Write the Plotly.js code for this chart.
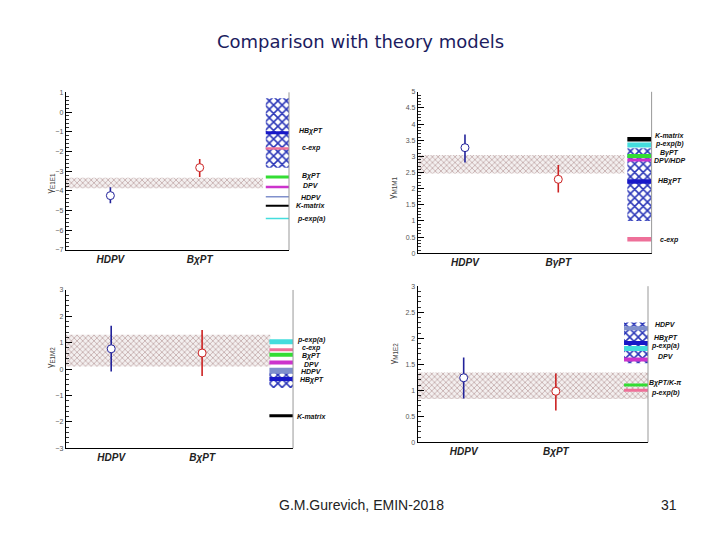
<!DOCTYPE html>
<html><head><meta charset="utf-8">
<script src="https://cdn.plot.ly/plotly-3.0.1.min.js"></script>
<style>html,body{margin:0;padding:0;background:#fff;} #chart{width:720px;height:540px;}</style>
</head><body><div id="chart"></div>
<script>
// ---------- data ----------
const xCategories = ['HDPV', 'BχPT'];
const xCategoriesM1M1 = ['HDPV', 'BγPT'];

// gamma E1E1
const e1e1Values = [-4.24, -2.82];
const e1e1ErrPlus = [0.42, 0.44];
const e1e1ErrMinus = [0.39, 0.48];
const e1e1Band = [-3.87, -3.33];
const e1e1Models = ['HBχPT', 'c-exp', 'BχPT', 'DPV', 'HDPV', 'K-matrix', 'p-exp(a)'];
const e1e1ModelValues = [-1.05, -1.85, -3.29, -3.80, -4.30, -4.76, -5.40];
const e1e1LabelValues = [-0.97, -1.82, -3.22, -3.72, -4.33, -4.76, -5.44];
const e1e1HBRange = [-2.83, 0.70];

// gamma M1M1
const m1m1Values = [3.27, 2.29];
const m1m1ErrPlus = [0.41, 0.44];
const m1m1ErrMinus = [0.46, 0.41];
const m1m1Band = [2.47, 3.04];
const m1m1Models = ['K-matrix', 'p-exp(b)', 'BγPT', 'DPV/HDP', 'HBχPT', 'c-exp'];
const m1m1ModelValues = [3.53, 3.35, 3.01, 2.89, 2.22, 0.43];
const m1m1LabelValues = [3.64, 3.38, 3.12, 2.86, 2.25, 0.41];
const m1m1HBRange = [1.00, 3.25];

// gamma E1M2
const e1m2Values = [0.77, 0.61];
const e1m2ErrPlus = [0.87, 0.87];
const e1m2ErrMinus = [0.86, 0.87];
const e1m2Band = [0.10, 1.30];
const e1m2Models = ['p-exp(a)', 'c-exp', 'BχPT', 'DPV', 'HDPV', 'HBχPT', 'K-matrix'];
const e1m2ModelValues = [1.04, 0.73, 0.54, 0.25, -0.06, -0.38, -1.77];
const e1m2LabelValues = [1.12, 0.81, 0.50, 0.19, -0.10, -0.40, -1.80];
const e1m2HBRange = [-0.72, -0.02];

// gamma M1E2
const m1e2Values = [1.24, 0.98];
const m1e2ErrPlus = [0.39, 0.34];
const m1e2ErrMinus = [0.40, 0.37];
const m1e2Band = [0.83, 1.34];
const m1e2Models = ['HDPV', 'HBχPT', 'p-exp(a)', 'DPV', 'BχPT/K-π', 'p-exp(b)'];
const m1e2ModelValues = [2.19, 1.91, 1.80, 1.59, 1.10, 1.00];
const m1e2LabelValues = [2.26, 2.01, 1.85, 1.64, 1.13, 0.94];
const m1e2HBRange = [1.52, 2.30];

// ---------- styles ----------
const C = {blue:'#1818c8', pink:'#ee7099', green:'#33dd33', mag:'#cc33cc', slate:'#8090cc', black:'#000000', cyan:'#44dddd'};
const panels = [
  {xa:'x', ya:'y', dom:[[0.0913,0.4014],[0.537,0.829]], range:[-7,1], dtick:1, minor:0.2,
   cats:xCategories, vals:e1e1Values, ep:e1e1ErrPlus, em:e1e1ErrMinus, band:e1e1Band, bandX:[0.5,2.71],
   models:e1e1Models, mv:e1e1ModelValues, lv:e1e1LabelValues, hb:e1e1HBRange,
   colors:[C.blue,C.pink,C.green,C.mag,C.slate,C.black,C.cyan], widths:[3,2.5,3,2.5,1.5,2,1.5],
   ytitle:'γ<sub>E1E1</sub>', ytx:0.060, yty:0.682, labX:1.10, axw:1},
  {xa:'x2', ya:'y2', dom:[[0.581,0.905],[0.531,0.830]], range:[0,5], dtick:0.5, minor:0.1,
   cats:xCategoriesM1M1, vals:m1m1Values, ep:m1m1ErrPlus, em:m1m1ErrMinus, band:m1m1Band, bandX:[0.5,2.71],
   models:m1m1Models, mv:m1m1ModelValues, lv:m1m1LabelValues, hb:m1m1HBRange,
   colors:[C.black,C.cyan,C.green,C.mag,C.blue,C.pink], widths:[4.5,5,4,3,4.5,4.5],
   ytitle:'γ<sub>M1M1</sub>', ytx:0.546, yty:0.676, labX:1.078, axw:1.5},
  {xa:'x3', ya:'y3', dom:[[0.0913,0.407],[0.170,0.463]], range:[-3,3], dtick:1, minor:0.2,
   cats:xCategories, vals:e1m2Values, ep:e1m2ErrPlus, em:e1m2ErrMinus, band:e1m2Band, bandX:[0.5,2.75],
   models:e1m2Models, mv:e1m2ModelValues, lv:e1m2LabelValues, hb:e1m2HBRange,
   colors:[C.cyan,C.pink,C.green,C.mag,C.slate,C.blue,C.black], widths:[5,3,4,4,6,4,3],
   ytitle:'γ<sub>E1M2</sub>', ytx:0.060, yty:0.315, labX:1.082, axw:1},
  {xa:'x4', ya:'y4', dom:[[0.580,0.900],[0.181,0.470]], range:[0,3], dtick:0.5, minor:0.1,
   cats:xCategories, vals:m1e2Values, ep:m1e2ErrPlus, em:m1e2ErrMinus, band:m1e2Band, bandX:[0.5,3.0],
   models:m1e2Models, mv:m1e2ModelValues, lv:m1e2LabelValues, hb:m1e2HBRange,
   colors:[C.slate,C.blue,C.cyan,C.mag,C.green,C.pink], widths:[4,4,5,4,3,3],
   ytitle:'γ<sub>M1E2</sub>', ytx:0.546, yty:0.321, labX:1.078, axw:1}
];
const theoryX = [2.74, 3.0];
const catX = [1, 2];

const traces = [];
const layout = {
  width:720, height:540, margin:{l:0,r:0,t:0,b:0}, showlegend:false,
  paper_bgcolor:'#ffffff', plot_bgcolor:'#ffffff', annotations:[], shapes:[]
};
const lblFont = {family:'Liberation Sans, Arial, sans-serif', size:7, color:'#111', weight:'bold', style:'italic'};

panels.forEach((p, i) => {
  const n = i === 0 ? '' : String(i + 1);
  traces.push({type:'scatter', xaxis:p.xa, yaxis:p.ya, mode:'lines', hoverinfo:'skip',
    x:[p.bandX[0], p.bandX[1], p.bandX[1], p.bandX[0], p.bandX[0]],
    y:[p.band[0], p.band[0], p.band[1], p.band[1], p.band[0]],
    fill:'toself', fillcolor:'#e8dede', line:{width:0},
    fillpattern:{shape:'x', fgcolor:'#bfa6a6', bgcolor:'#f3efef', size:4, solidity:0.35}});
  traces.push({type:'scatter', xaxis:p.xa, yaxis:p.ya, mode:'lines', hoverinfo:'skip',
    x:[theoryX[0], theoryX[1], theoryX[1], theoryX[0], theoryX[0]],
    y:[p.hb[0], p.hb[0], p.hb[1], p.hb[1], p.hb[0]],
    fill:'toself', fillcolor:'#8890dd', line:{width:0},
    fillpattern:{shape:'x', fgcolor:'#2a36b8', bgcolor:'#ffffff', size:6, solidity:0.45}});
  p.models.forEach((m, j) => {
    traces.push({type:'scatter', xaxis:p.xa, yaxis:p.ya, mode:'lines', name:m,
      x:theoryX, y:[p.mv[j], p.mv[j]], line:{color:p.colors[j], width:p.widths[j]}});
    layout.annotations.push({xref:p.xa + ' domain', yref:p.ya, x:p.labX, y:p.lv[j], text:m,
      showarrow:false, xanchor:'center', yanchor:'middle', font:lblFont, borderpad:0});
  });
  const cols = ['#22229a', '#cc2222'];
  [0, 1].forEach(k => {
    traces.push({type:'scatter', xaxis:p.xa, yaxis:p.ya, mode:'markers', name:p.cats[k],
      x:[catX[k]], y:[p.vals[k]],
      marker:{symbol:'circle', size:8, color:'#ffffff', line:{color:cols[k], width:1}},
      error_y:{type:'data', symmetric:false, array:[p.ep[k]], arrayminus:[p.em[k]], color:cols[k], thickness:1.6, width:0}});
  });
  layout['xaxis' + n] = {domain:p.dom[0], anchor:p.ya, range:[0.5, 3.0], tickvals:catX, ticktext:p.cats,
    showline:true, linecolor:'#000', linewidth:1, ticks:'', showgrid:false, zeroline:false,
    tickfont:{family:'Liberation Sans, Arial, sans-serif', size:10, color:'#222', weight:'bold', style:'italic'}};
  layout['yaxis' + n] = {domain:p.dom[1], anchor:p.xa, range:p.range, dtick:p.dtick, tick0:0,
    showline:true, linecolor:'#000', linewidth:p.axw, ticks:'inside', ticklen:6, tickcolor:'#000', tickwidth:1,
    minor:{ticks:'inside', ticklen:3, dtick:p.minor, tickcolor:'#000', tickwidth:0.8, showgrid:false},
    showgrid:false, zeroline:false,
    tickfont:{family:'Liberation Sans, Arial, sans-serif', size:7, color:'#555'}};
  layout.shapes.push({type:'line', xref:p.xa + ' domain', yref:p.ya + ' domain', x0:1, x1:1, y0:0, y1:1,
    line:{color:'#999', width:1}});
  layout.annotations.push({xref:'paper', yref:'paper', x:p.ytx, y:p.yty, text:p.ytitle, textangle:-90,
    showarrow:false, font:{family:'Liberation Sans, Arial, sans-serif', size:9, color:'#444'}});
});

layout.annotations.push({xref:'paper', yref:'paper', x:0.5, y:1 - 41/540, text:'Comparison with theory models',
  showarrow:false, xanchor:'center', yanchor:'middle', font:{family:'DejaVu Sans, sans-serif', size:18, color:'#1c1c60'}});
layout.annotations.push({xref:'paper', yref:'paper', x:361/720, y:1 - 505/540, text:'G.M.Gurevich, EMIN-2018',
  showarrow:false, xanchor:'center', yanchor:'middle', font:{family:'Liberation Sans, Arial, sans-serif', size:14, color:'#222'}});
layout.annotations.push({xref:'paper', yref:'paper', x:669/720, y:1 - 505/540, text:'31',
  showarrow:false, xanchor:'center', yanchor:'middle', font:{family:'Liberation Sans, Arial, sans-serif', size:14, color:'#222'}});

Plotly.newPlot('chart', traces, layout, {staticPlot:true, displayModeBar:false});
</script></body></html>
